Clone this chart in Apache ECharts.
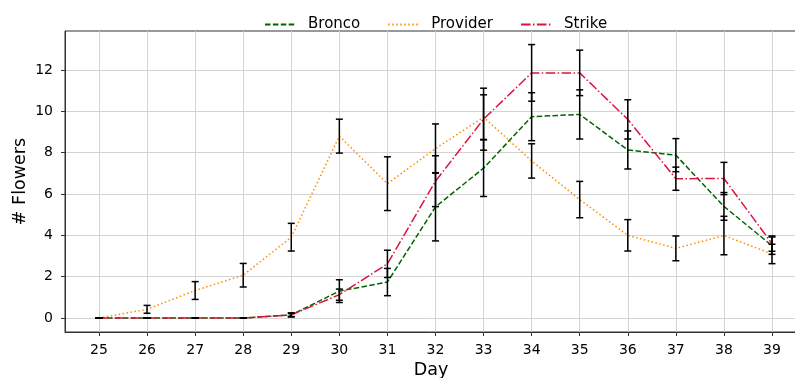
<!DOCTYPE html>
<html>
<head>
<meta charset="utf-8">
<script src="https://cdn.jsdelivr.net/npm/echarts@6/dist/echarts.min.js"></script>
<style>
html,body{margin:0;padding:0;background:#fff;}
#chart{width:795px;height:378px;}
</style>
</head>
<body>
<div id="chart"></div>
<script>
// ---- data ----
const days = [25, 26, 27, 28, 29, 30, 31, 32, 33, 34, 35, 36, 37, 38, 39];
const broncoMean = [0, 0, 0, 0, 0.15, 1.3, 1.74, 5.38, 7.25, 9.74, 9.85, 8.13, 7.88, 5.4, 3.5];
const broncoErr  = [0, 0, 0, 0, 0.1, 0.55, 0.66, 1.65, 1.37, 1.16, 1.19, 0.92, 0.8, 0.67, 0.42];
const providerMean = [0, 0.42, 1.33, 2.07, 3.91, 8.8, 6.5, 8.2, 9.72, 7.6, 5.73, 4.0, 3.37, 3.99, 3.1];
const providerErr  = [0, 0.19, 0.43, 0.57, 0.67, 0.82, 1.3, 1.19, 1.08, 0.83, 0.88, 0.76, 0.6, 0.93, 0.47];
const strikeMean = [0, 0, 0, 0, 0.15, 1.13, 2.62, 6.62, 9.62, 11.86, 11.86, 9.61, 6.74, 6.75, 3.6];
const strikeErr  = [0, 0, 0, 0, 0.08, 0.27, 0.66, 1.23, 1.5, 1.37, 1.1, 0.95, 0.56, 0.78, 0.37];
const seriesNames = ['Bronco', 'Provider', 'Strike'];
const xTicks = days;
const yTicks = [0, 2, 4, 6, 8, 10, 12];

const means = [broncoMean, providerMean, strikeMean];
const errs = [broncoErr, providerErr, strikeErr];
const colors = ['#006400', '#ff8c00', '#dc143c'];
const dashes = [[5.5, 2.4], [1.5, 2.5], [9.6, 2.4, 1.5, 2.4]];

const font = 'DejaVu Sans';
const chart = echarts.init(document.getElementById('chart'), null, {renderer: 'canvas'});

const lineSeries = seriesNames.map((name, i) => ({
  name: name,
  type: 'line',
  data: days.map((d, k) => [d, means[i][k]]),
  symbol: 'none',
  showSymbol: false,
  lineStyle: {color: colors[i], width: 1.5, type: dashes[i]},
  itemStyle: {color: colors[i]},
  z: 3,
  animation: false
}));

const errSeries = seriesNames.map((name, i) => ({
  name: name + '_err',
  type: 'custom',
  data: days.map((d, k) => [d, means[i][k], errs[i][k]]),
  z: 4,
  silent: true,
  animation: false,
  renderItem: function (params, api) {
    const x = api.value(0), y = api.value(1), e = api.value(2);
    const t = api.coord([x, y + e]);
    const b = api.coord([x, y - e]);
    const w = 3.5;
    const st = {stroke: '#000', lineWidth: 1.5};
    return {
      type: 'group',
      children: [
        {type: 'line', shape: {x1: t[0], y1: t[1], x2: b[0], y2: b[1]}, style: st},
        {type: 'line', shape: {x1: t[0] - w, y1: t[1], x2: t[0] + w, y2: t[1]}, style: st},
        {type: 'line', shape: {x1: b[0] - w, y1: b[1], x2: b[0] + w, y2: b[1]}, style: st}
      ]
    };
  }
}));

const option = {
  animation: false,
  backgroundColor: '#fff',
  textStyle: {fontFamily: font},
  grid: {left: 65, right: -2, top: 31, bottom: 46, containLabel: false, outerBoundsMode: 'none',
         show: true, borderColor: '#333', borderWidth: 1, backgroundColor: 'transparent'},
  legend: {
    data: seriesNames,
    left: 259,
    top: 12,
    itemWidth: 31,
    itemHeight: 14,
    itemGap: 27,
    itemStyle: {opacity: 0},
    textStyle: {fontFamily: font, fontSize: 15, color: '#000', padding: [0, 0, 0, 7]}
  },
  xAxis: {
    type: 'value',
    min: 24.293,
    max: 39.52,
    name: 'Day',
    nameLocation: 'middle',
    nameGap: 29,
    nameTextStyle: {fontFamily: font, fontSize: 17.5, color: '#000'},
    axisLine: {show: true, onZero: false, lineStyle: {color: '#333', width: 1}},
    axisTick: {show: true, length: 4, lineStyle: {color: '#333'}, customValues: xTicks},
    axisLabel: {fontFamily: font, fontSize: 14, color: '#000', margin: 11, customValues: xTicks},
    splitLine: {show: true, lineStyle: {color: '#d3d3d3', width: 1}}
  },
  yAxis: {
    type: 'value',
    min: -0.677,
    max: 13.887,
    name: '# Flowers',
    nameLocation: 'middle',
    nameGap: 36,
    nameMoveOverlap: false,
    nameRotate: 90,
    nameTextStyle: {fontFamily: font, fontSize: 17.5, color: '#000'},
    axisLine: {show: true, onZero: false, lineStyle: {color: '#333', width: 1}},
    axisTick: {show: true, length: 4, lineStyle: {color: '#333'}, customValues: yTicks},
    axisLabel: {fontFamily: font, fontSize: 14, color: '#000', margin: 12, customValues: yTicks},
    splitLine: {show: true, lineStyle: {color: '#d3d3d3', width: 1}}
  },
  series: lineSeries.concat(errSeries)
};
chart.setOption(option);
</script>
</body>
</html>
